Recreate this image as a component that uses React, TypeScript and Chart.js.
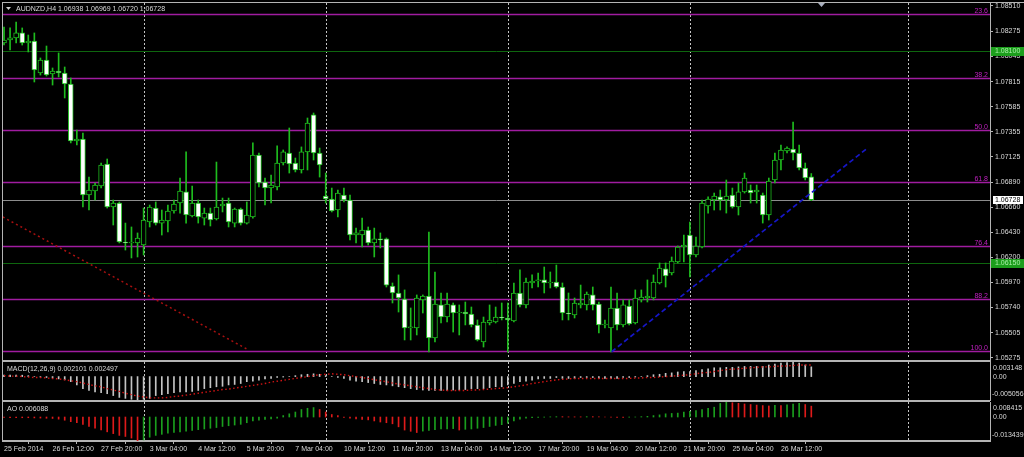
import React, { useEffect, useRef } from 'react';
import { Chart, registerables } from 'chart.js';

Chart.register(...registerables);

// ---------------- DATA ----------------
const symbolLabel = 'AUDNZD,H4';

const opens = [
  1.08170, 1.08197, 1.08216, 1.08262, 1.08170, 1.08188, 1.07894, 1.08013, 1.07885, 1.07912,
  1.07894, 1.07793, 1.07269, 1.07287, 1.06772, 1.06809, 1.06855, 1.07057, 1.06662, 1.06698,
  1.06340, 1.06331, 1.06331, 1.06312, 1.06524, 1.06652, 1.06514, 1.06533, 1.06625, 1.06698,
  1.06800, 1.06579, 1.06698, 1.06560, 1.06606, 1.06551, 1.06671, 1.06698, 1.06514, 1.06643,
  1.06514, 1.06570, 1.07140, 1.06891, 1.06836, 1.06846, 1.07066, 1.07158, 1.07066, 1.07002,
  1.07168, 1.07508, 1.07158, 1.06763, 1.06735, 1.06634, 1.06772, 1.06726, 1.06404, 1.06404,
  1.06450, 1.06331, 1.06368, 1.06368, 1.05935, 1.05871, 1.05816, 1.05549, 1.05549, 1.05807,
  1.05843, 1.05457, 1.05761, 1.05650, 1.05761, 1.05687, 1.05696, 1.05678, 1.05577, 1.05420,
  1.05595, 1.05604, 1.05650, 1.05641, 1.05613, 1.05871, 1.05761, 1.05963, 1.05981, 1.05991,
  1.05963, 1.05972, 1.05926, 1.05687, 1.05669, 1.05761, 1.05761, 1.05853, 1.05770, 1.05577,
  1.05549, 1.05733, 1.05577, 1.05751, 1.05595, 1.05807, 1.05825, 1.05825, 1.05963, 1.06092,
  1.06055, 1.06156, 1.06294, 1.06404, 1.06220, 1.06294, 1.06671, 1.06726, 1.06754, 1.06726,
  1.06772, 1.06662, 1.06800, 1.06818, 1.06800, 1.06772, 1.06588, 1.06910, 1.07094, 1.07177,
  1.07195, 1.07158, 1.07020, 1.06938,
];

const highs = [
  1.08317, 1.08308, 1.08363, 1.08308, 1.08243, 1.08262, 1.08032, 1.08142, 1.07940, 1.08078,
  1.07949, 1.07848, 1.07370, 1.07342, 1.06937, 1.06882, 1.07066, 1.07103, 1.06726, 1.06708,
  1.06514, 1.06478, 1.06423, 1.06652, 1.06680, 1.06708, 1.06634, 1.06680, 1.06726, 1.06928,
  1.07168, 1.06855, 1.06726, 1.06652, 1.06652, 1.07075, 1.06744, 1.06744, 1.06652, 1.06652,
  1.06708, 1.07251, 1.07158, 1.06928, 1.06956, 1.07223, 1.07186, 1.07388, 1.07112, 1.07214,
  1.07480, 1.07526, 1.07204, 1.06974, 1.06836, 1.06818, 1.06836, 1.06772, 1.06468, 1.06560,
  1.06478, 1.06468, 1.06423, 1.06377, 1.05963, 1.06037, 1.05899, 1.05733, 1.05853, 1.05853,
  1.06432, 1.06064, 1.05871, 1.05871, 1.05779, 1.05761, 1.05788, 1.05742, 1.05623, 1.05650,
  1.05761, 1.05742, 1.05779, 1.05779, 1.05963, 1.06083, 1.06009, 1.06037, 1.06055, 1.06110,
  1.06064, 1.06128, 1.05963, 1.05871, 1.05825, 1.05944, 1.05880, 1.05926, 1.05788, 1.05623,
  1.05926, 1.05871, 1.05807, 1.05807, 1.05899, 1.05899, 1.05991, 1.06037, 1.06147, 1.06147,
  1.06202, 1.06303, 1.06404, 1.06524, 1.06386, 1.06726, 1.06754, 1.06790, 1.06818, 1.06910,
  1.06836, 1.06882, 1.06974, 1.06864, 1.06864, 1.06790, 1.06928, 1.07158, 1.07232, 1.07214,
  1.07443, 1.07232, 1.07066, 1.06969,
];

const lows = [
  1.08151, 1.08105, 1.08170, 1.08151, 1.08087, 1.07811, 1.07875, 1.07866, 1.07783, 1.07857,
  1.07664, 1.07251, 1.07232, 1.06662, 1.06634, 1.06726, 1.06836, 1.06652, 1.06496, 1.06331,
  1.06266, 1.06193, 1.06202, 1.06220, 1.06478, 1.06496, 1.06404, 1.06432, 1.06606, 1.06606,
  1.06514, 1.06570, 1.06514, 1.06496, 1.06487, 1.06542, 1.06616, 1.06478, 1.06478, 1.06496,
  1.06505, 1.06560, 1.06846, 1.06680, 1.06698, 1.06818, 1.07048, 1.06974, 1.06984, 1.06974,
  1.07002, 1.07094, 1.06937, 1.06698, 1.06616, 1.06570, 1.06708, 1.06358, 1.06331, 1.06294,
  1.06312, 1.06202, 1.06285, 1.05926, 1.05779, 1.05696, 1.05439, 1.05439, 1.05485, 1.05687,
  1.05328, 1.05420, 1.05595, 1.05604, 1.05512, 1.05485, 1.05577, 1.05559, 1.05430, 1.05374,
  1.05577, 1.05595, 1.05623, 1.05328, 1.05604, 1.05742, 1.05733, 1.05917, 1.05926, 1.05871,
  1.05917, 1.05917, 1.05623, 1.05623, 1.05641, 1.05733, 1.05715, 1.05715, 1.05503, 1.05549,
  1.05328, 1.05531, 1.05559, 1.05577, 1.05586, 1.05788, 1.05788, 1.05807, 1.05954, 1.05926,
  1.06037, 1.06147, 1.06156, 1.06018, 1.06202, 1.06285, 1.06606, 1.06634, 1.06634, 1.06606,
  1.06652, 1.06588, 1.06790, 1.06698, 1.06698, 1.06514, 1.06542, 1.06882, 1.07002, 1.07158,
  1.07094, 1.07002, 1.06910, 1.06720,
];

const closes = [
  1.08197, 1.08216, 1.08262, 1.08170, 1.08188, 1.07921, 1.08013, 1.07875, 1.07912, 1.07894,
  1.07793, 1.07269, 1.07287, 1.06772, 1.06818, 1.06864, 1.07048, 1.06662, 1.06698, 1.06340,
  1.06331, 1.06340, 1.06377, 1.06542, 1.06662, 1.06514, 1.06542, 1.06625, 1.06689, 1.06809,
  1.06588, 1.06698, 1.06570, 1.06606, 1.06542, 1.06662, 1.06689, 1.06524, 1.06643, 1.06514,
  1.06588, 1.07140, 1.06882, 1.06836, 1.06864, 1.07066, 1.07168, 1.07057, 1.07002, 1.07168,
  1.07434, 1.07158, 1.07048, 1.06735, 1.06625, 1.06790, 1.06726, 1.06404, 1.06423, 1.06450,
  1.06331, 1.06368, 1.06358, 1.05944, 1.05871, 1.05825, 1.05549, 1.05559, 1.05825, 1.05843,
  1.05457, 1.05770, 1.05650, 1.05770, 1.05687, 1.05696, 1.05678, 1.05577, 1.05439, 1.05604,
  1.05623, 1.05650, 1.05641, 1.05623, 1.05871, 1.05761, 1.05972, 1.05981, 1.05991, 1.05963,
  1.05972, 1.05926, 1.05687, 1.05678, 1.05779, 1.05779, 1.05862, 1.05761, 1.05577, 1.05586,
  1.05733, 1.05577, 1.05761, 1.05586, 1.05825, 1.05834, 1.05843, 1.05972, 1.06101, 1.06027,
  1.06165, 1.06294, 1.06312, 1.06220, 1.06303, 1.06698, 1.06735, 1.06763, 1.06726, 1.06763,
  1.06662, 1.06800, 1.06928, 1.06790, 1.06818, 1.06588, 1.06900, 1.07094, 1.07186, 1.07204,
  1.07158, 1.07020, 1.06928, 1.06728,
];

const macdMain = [
  0.0003, 0.0003, 0.0003, 0.0003, 0.0002, 0.0000, -0.0001, -0.0002, -0.0003, -0.0005,
  -0.0007, -0.0011, -0.0018, -0.0026, -0.0030, -0.0033, -0.0035, -0.0037, -0.0041, -0.0045,
  -0.0047, -0.0049, -0.0050, -0.0049, -0.0047, -0.0041, -0.0039, -0.0037, -0.0035, -0.0033,
  -0.0033, -0.0032, -0.0030, -0.0026, -0.0024, -0.0022, -0.0021, -0.0018, -0.0017, -0.0015,
  -0.0011, -0.0010, -0.0008, -0.0005, -0.0004, -0.0002, -0.0001, 0.0000, 0.0002, 0.0004,
  0.0005, 0.0006, 0.0005, 0.0002, 0.0000, -0.0002, -0.0004, -0.0008, -0.0010, -0.0011,
  -0.0013, -0.0015, -0.0017, -0.0018, -0.0020, -0.0022, -0.0024, -0.0026, -0.0028, -0.0029,
  -0.0030, -0.0030, -0.0030, -0.0030, -0.0029, -0.0029, -0.0028, -0.0026, -0.0026, -0.0026,
  -0.0024, -0.0022, -0.0022, -0.0018, -0.0015, -0.0011, -0.0010, -0.0008, -0.0005, -0.0004,
  -0.0004, -0.0002, -0.0004, -0.0004, -0.0004, -0.0002, -0.0002, -0.0002, -0.0004, -0.0004,
  -0.0004, -0.0004, -0.0002, -0.0002, -0.0001, 0.0000, 0.0002, 0.0004, 0.0005, 0.0007,
  0.0008, 0.0010, 0.0011, 0.0011, 0.0013, 0.0015, 0.0017, 0.0019, 0.0019, 0.0020,
  0.0020, 0.0021, 0.0022, 0.0022, 0.0022, 0.0022, 0.0025, 0.0027, 0.0029, 0.0030,
  0.0031, 0.0029, 0.0025, 0.002101,
];

const macdSignal = [
  0.0002, 0.0001, 0.0001, 0.0000, -0.0001, -0.0002, -0.0002, -0.0003, -0.0004, -0.0005,
  -0.0007, -0.0009, -0.0011, -0.0014, -0.0017, -0.0020, -0.0022, -0.0026, -0.0029, -0.0032,
  -0.0036, -0.0039, -0.0042, -0.0044, -0.0046, -0.0046, -0.0046, -0.0045, -0.0043, -0.0042,
  -0.0040, -0.0038, -0.0036, -0.0034, -0.0032, -0.0030, -0.0028, -0.0027, -0.0025, -0.0023,
  -0.0021, -0.0019, -0.0017, -0.0015, -0.0012, -0.0010, -0.0008, -0.0006, -0.0004, -0.0002,
  0.0000, 0.0002, 0.0004, 0.0005, 0.0006, 0.0005, 0.0004, 0.0002, 0.0000, -0.0002,
  -0.0004, -0.0007, -0.0009, -0.0011, -0.0014, -0.0016, -0.0018, -0.0020, -0.0022, -0.0024,
  -0.0026, -0.0028, -0.0029, -0.0030, -0.0030, -0.0030, -0.0030, -0.0029, -0.0029, -0.0028,
  -0.0027, -0.0026, -0.0025, -0.0024, -0.0022, -0.0020, -0.0018, -0.0015, -0.0013, -0.0011,
  -0.0009, -0.0007, -0.0006, -0.0005, -0.0004, -0.0004, -0.0004, -0.0004, -0.0004, -0.0004,
  -0.0004, -0.0004, -0.0004, -0.0004, -0.0003, -0.0003, -0.0002, -0.0002, -0.0001, 0.0000,
  0.0001, 0.0002, 0.0003, 0.0004, 0.0006, 0.0008, 0.0009, 0.0011, 0.0013, 0.0015,
  0.0016, 0.0017, 0.0018, 0.0019, 0.0020, 0.0021, 0.0021, 0.0022, 0.0023, 0.0023,
  0.0024, 0.0025, 0.0025, 0.002497,
];

const aoValues = [
  -0.0002, -0.0003, -0.0003, -0.0004, -0.0004, -0.0005, -0.0006, -0.0007, -0.0008, -0.0012,
  -0.0018, -0.0026, -0.0032, -0.0042, -0.0053, -0.0063, -0.0073, -0.0083, -0.0093, -0.0103,
  -0.0109, -0.0118, -0.0134, -0.0128, -0.0113, -0.0103, -0.0097, -0.0091, -0.0087, -0.0083,
  -0.0079, -0.0075, -0.0071, -0.0067, -0.0063, -0.0059, -0.0053, -0.0049, -0.0045, -0.0041,
  -0.0032, -0.0022, -0.0018, -0.0014, -0.0010, -0.0006, 0.0008, 0.0018, 0.0028, 0.0042,
  0.0049, 0.0053, 0.0042, 0.0028, 0.0014, 0.0008, -0.0002, -0.0006, -0.0010, -0.0013,
  -0.0016, -0.0022, -0.0028, -0.0032, -0.0038, -0.0055, -0.0073, -0.0080, -0.0087, -0.0079,
  -0.0075, -0.0071, -0.0067, -0.0066, -0.0065, -0.0073, -0.0069, -0.0067, -0.0063, -0.0059,
  -0.0053, -0.0047, -0.0043, -0.0035, -0.0022, -0.0012, -0.0006, -0.0004, -0.0002, -0.0001,
  0.0001, 0.0002, 0.0002, 0.0001, 0.0001, 0.0001, 0.0002, 0.0002, 0.0001, 0.0000,
  -0.0001, -0.0002, -0.0002, -0.0001, 0.0000, 0.0002, 0.0004, 0.0008, 0.0012, 0.0018,
  0.0020, 0.0022, 0.0028, 0.0032, 0.0036, 0.0042, 0.0049, 0.0055, 0.0076, 0.0084,
  0.0080, 0.0077, 0.0073, 0.0070, 0.0067, 0.0064, 0.0062, 0.0066, 0.0064, 0.0068,
  0.0073, 0.0077, 0.0070, 0.006088,
];

const timeLabelIndex = [0, 8, 16, 24, 32, 40, 48, 56, 64, 72, 80, 88, 96, 104, 112, 120, 128];
const timeLabels = [
  '25 Feb 2014', '26 Feb 12:00', '27 Feb 20:00', '3 Mar 04:00', '4 Mar 12:00', '5 Mar 20:00',
  '7 Mar 04:00', '10 Mar 12:00', '11 Mar 20:00', '13 Mar 04:00', '14 Mar 12:00', '17 Mar 20:00',
  '19 Mar 04:00', '20 Mar 12:00', '21 Mar 20:00', '25 Mar 04:00', '26 Mar 12:00',
];
const weekGridIndex = [23, 53, 83, 113, 149];

const priceTicks = [
  1.08510, 1.08275, 1.08045, 1.07815, 1.07585, 1.07355, 1.07125, 1.06890,
  1.06660, 1.06430, 1.06200, 1.05970, 1.05740, 1.05505, 1.05275,
];
const priceMin = 1.05264;
const priceMax = 1.085374;

const fibLevels = [1.08436, 1.07851, 1.07370, 1.06889, 1.06303, 1.05819, 1.05340];
const fibLabels = ['23.6', '38.2', '50.0', '61.8', '76.4', '88.2', '100.0'];
const greenLevels = [1.08100, 1.06150];

const redTrendX = [-0.2, 40.3];
const redTrendY = [1.06570, 1.05347];
const blueTrendX = [100.1, 142.0];
const blueTrendY = [1.05331, 1.07192];

const macdMax = 0.003148;
const macdMin = -0.005056;
const aoMax = 0.008415;
const aoMin = -0.013439;

const xMin = -0.165;
const xMax = 162.44;

// ---------------- STYLE ----------------
const FAMILY = '"Liberation Sans", Arial, sans-serif';
const TEXT = '#dadada';
const FRAME = '#b4b4b4';
const CANDLE = '#1ebc1e';
const FIB_LINE = '#a01ca0';
const FIB_TEXT = '#c020c0';
const LEVEL_GREEN = '#0e660e';
const BOX_GREEN = '#1c9e1c';
const GRID = '#c4c4c4';

const fnt = (s = 7) => `${s}px ${FAMILY}`;

function drawWeekGrid(chart: any) {
  const { ctx, chartArea: a, scales } = chart;
  const x = scales.x;
  ctx.save();
  ctx.strokeStyle = GRID;
  ctx.lineWidth = 1;
  ctx.setLineDash([2, 2]);
  weekGridIndex.forEach((i) => {
    const px = Math.round(x.getPixelForValue(i)) + 0.5;
    ctx.beginPath();
    ctx.moveTo(px, a.top);
    ctx.lineTo(px, a.bottom);
    ctx.stroke();
  });
  ctx.restore();
}

function hline(ctx: any, x0: number, x1: number, y: number) {
  ctx.beginPath();
  ctx.moveTo(x0, y);
  ctx.lineTo(x1, y);
  ctx.stroke();
}

const N = closes.length;

const mainPlugin = {
  id: 'mainOverlay',
  beforeDatasetsDraw(chart: any) {
    const { ctx, chartArea: a, scales } = chart;
    const y = scales.y;
    drawWeekGrid(chart);
    ctx.save();
    ctx.lineWidth = 1;
    ctx.strokeStyle = LEVEL_GREEN;
    greenLevels.forEach((v) => hline(ctx, a.left, a.right, Math.round(y.getPixelForValue(v)) + 0.5));
    ctx.strokeStyle = '#8c8c8c';
    hline(ctx, a.left, a.right, Math.round(y.getPixelForValue(closes[N - 1])) + 0.5);
    ctx.strokeStyle = FIB_LINE;
    ctx.lineWidth = 1.3;
    fibLevels.forEach((v) => hline(ctx, a.left, a.right, Math.round(y.getPixelForValue(v)) + 0.5));
    ctx.restore();
  },
  afterDraw(chart: any) {
    const { ctx, chartArea: a, scales } = chart;
    const y = scales.y;
    ctx.save();
    // fib labels
    ctx.font = fnt(7);
    ctx.fillStyle = FIB_TEXT;
    ctx.textAlign = 'right';
    ctx.textBaseline = 'alphabetic';
    fibLevels.forEach((v, k) => {
      ctx.fillText(fibLabels[k], a.right - 2, Math.round(y.getPixelForValue(v)) - 1);
    });
    // frame
    ctx.fillStyle = FRAME;
    ctx.fillRect(2, 2, 1022, 1);
    ctx.fillRect(2, 2, 1, 360);
    ctx.fillRect(990, 2, 1, 360);
    ctx.fillRect(2, 360, 988, 2);
    // green level boxes on axis
    ctx.textAlign = 'left';
    ctx.textBaseline = 'middle';
    greenLevels.forEach((v) => {
      const py = Math.round(y.getPixelForValue(v));
      ctx.fillStyle = BOX_GREEN;
      ctx.fillRect(991, py - 4, 33, 9);
      ctx.fillStyle = '#a8f0a8';
      ctx.fillText(v.toFixed(5), 995, py + 0.5);
    });
    // current price box
    const cp = Math.round(y.getPixelForValue(closes[N - 1]));
    ctx.fillStyle = '#ffffff';
    ctx.fillRect(993, cp - 4, 30, 8);
    ctx.fillStyle = '#000000';
    ctx.fillText(closes[N - 1].toFixed(5), 995, cp + 0.5);
    // header
    ctx.fillStyle = '#d0d0d0';
    ctx.beginPath();
    ctx.moveTo(6, 7);
    ctx.lineTo(11, 7);
    ctx.lineTo(8.5, 10);
    ctx.closePath();
    ctx.fill();
    ctx.fillStyle = TEXT;
    ctx.font = fnt(7);
    ctx.fillText(
      `${symbolLabel} ${opens[N - 1].toFixed(5)} ${highs[N - 1].toFixed(5)} ${lows[N - 1].toFixed(5)} ${closes[N - 1].toFixed(5)}`,
      16, 9.5
    );
    // chart shift marker
    ctx.fillStyle = '#aab0c0';
    ctx.beginPath();
    ctx.moveTo(818, 3);
    ctx.lineTo(825, 3);
    ctx.lineTo(821.5, 7);
    ctx.closePath();
    ctx.fill();
    ctx.restore();
  },
};

function subPlugin(id: string, title: string, vmax: number, vmin: number, bottomBand: boolean) {
  return {
    id,
    beforeDatasetsDraw(chart: any) {
      drawWeekGrid(chart);
    },
    afterDraw(chart: any) {
      const { ctx, chartArea: a, scales } = chart;
      const y = scales.y;
      ctx.save();
      ctx.fillStyle = FRAME;
      ctx.fillRect(2, 0, 1, a.bottom + 1);
      ctx.fillRect(990, 0, 1, a.bottom + 1);
      if (bottomBand) ctx.fillRect(2, a.bottom, 988, 2);
      ctx.font = fnt(7);
      ctx.fillStyle = TEXT;
      ctx.textAlign = 'left';
      ctx.textBaseline = 'middle';
      ctx.fillText(title, 7, a.top + 7);
      ctx.fillText(vmax.toFixed(6), 993, a.top + 6);
      ctx.fillText('0.00', 993, y.getPixelForValue(0));
      ctx.fillText(vmin.toFixed(6), 992, a.bottom - 6);
      ctx.restore();
    },
  };
}

export default function App() {
  const mainRef = useRef<HTMLCanvasElement>(null);
  const macdRef = useRef<HTMLCanvasElement>(null);
  const aoRef = useRef<HTMLCanvasElement>(null);

  useEffect(() => {
    const charts: Chart[] = [];
    const idx = closes.map((_, i) => i);

    const xScale = {
      type: 'linear' as const,
      min: xMin,
      max: xMax,
      offset: false,
      display: false,
    };

    // ---- main price chart ----
    charts.push(
      new Chart(mainRef.current as HTMLCanvasElement, {
        type: 'bar',
        data: {
          datasets: [
            {
              type: 'line',
              data: blueTrendX.map((x, k) => ({ x, y: blueTrendY[k] })),
              borderColor: '#1616c8',
              borderWidth: 1.7,
              borderDash: [5, 3],
              pointRadius: 0,
              order: 0,
            } as any,
            {
              type: 'line',
              data: redTrendX.map((x, k) => ({ x, y: redTrendY[k] })),
              borderColor: '#a81010',
              borderWidth: 1.5,
              borderDash: [2, 3],
              pointRadius: 0,
              order: 0,
            } as any,
            {
              data: idx.map((i) => ({ x: i, y: [opens[i], closes[i]] })),
              backgroundColor: idx.map((i) => (closes[i] < opens[i] ? '#ffffff' : '#000000')),
              borderColor: CANDLE,
              borderWidth: 1,
              borderSkipped: false,
              barThickness: 5,
              minBarLength: 1,
              grouped: false,
              order: 1,
            } as any,
            {
              data: idx.map((i) => ({ x: i, y: [lows[i], highs[i]] })),
              backgroundColor: CANDLE,
              borderWidth: 0,
              barThickness: 1,
              grouped: false,
              order: 2,
            } as any,
          ],
        },
        options: {
          animation: false,
          responsive: false,
          maintainAspectRatio: false,
          devicePixelRatio: 1,
          events: [],
          layout: { padding: { left: 3, right: 0, top: 3, bottom: 3 } },
          plugins: { legend: { display: false }, tooltip: { enabled: false } },
          scales: {
            x: xScale,
            y: {
              type: 'linear',
              position: 'right',
              min: priceMin,
              max: priceMax,
              afterBuildTicks: (s: any) => {
                s.ticks = priceTicks.map((v) => ({ value: v }));
              },
              afterFit: (s: any) => {
                s.width = 34;
              },
              ticks: {
                color: TEXT,
                autoSkip: false,
                padding: 2,
                font: { family: FAMILY, size: 7, lineHeight: 0.1 },
                callback: (v: any) => Number(v).toFixed(5),
              },
              grid: { display: true, drawOnChartArea: false, drawTicks: true, tickLength: 3, color: FRAME },
              border: { display: false },
            },
          },
        } as any,
        plugins: [mainPlugin],
      })
    );

    // ---- MACD ----
    charts.push(
      new Chart(macdRef.current as HTMLCanvasElement, {
        type: 'bar',
        data: {
          datasets: [
            {
              type: 'line',
              data: idx.map((i) => ({ x: i, y: macdSignal[i] })),
              borderColor: '#d01414',
              borderWidth: 1.4,
              borderDash: [1.5, 2.5],
              pointRadius: 0,
              order: 0,
            } as any,
            {
              data: idx.map((i) => ({ x: i, y: macdMain[i] })),
              backgroundColor: '#c4c4c4',
              barThickness: 1,
              grouped: false,
              order: 1,
            } as any,
          ],
        },
        options: {
          animation: false,
          responsive: false,
          maintainAspectRatio: false,
          devicePixelRatio: 1,
          events: [],
          layout: { padding: { left: 3, right: 34, top: 0, bottom: 2 } },
          plugins: { legend: { display: false }, tooltip: { enabled: false } },
          scales: {
            x: xScale,
            y: { type: 'linear', display: false, min: macdMin, max: macdMax },
          },
        } as any,
        plugins: [
          subPlugin(
            'macdOverlay',
            `MACD(12,26,9) ${macdMain[N - 1].toFixed(6)} ${macdSignal[N - 1].toFixed(6)}`,
            macdMax,
            macdMin,
            true
          ),
        ],
      })
    );

    // ---- AO ----
    charts.push(
      new Chart(aoRef.current as HTMLCanvasElement, {
        type: 'bar',
        data: {
          datasets: [
            {
              data: idx.map((i) => ({ x: i, y: aoValues[i] })),
              backgroundColor: idx.map((i) => (i > 0 && aoValues[i] > aoValues[i - 1] ? '#1a9e1d' : '#de1a1a')),
              barThickness: 1,
              grouped: false,
            } as any,
          ],
        },
        options: {
          animation: false,
          responsive: false,
          maintainAspectRatio: false,
          devicePixelRatio: 1,
          events: [],
          layout: { padding: { left: 3, right: 34, top: 0, bottom: 0 } },
          plugins: { legend: { display: false }, tooltip: { enabled: false } },
          scales: {
            x: {
              type: 'linear',
              min: xMin,
              max: xMax,
              offset: false,
              display: true,
              position: 'bottom',
              afterBuildTicks: (s: any) => {
                s.ticks = timeLabelIndex.map((v) => ({ value: v }));
              },
              afterFit: (s: any) => {
                s.height = 16;
              },
              ticks: {
                color: TEXT,
                autoSkip: false,
                maxRotation: 0,
                minRotation: 0,
                align: 'start',
                padding: 1,
                font: { family: FAMILY, size: 7 },
                callback: (v: any) => {
                  const k = timeLabelIndex.indexOf(Number(v));
                  return k >= 0 ? timeLabels[k] : '';
                },
              },
              grid: { display: true, drawOnChartArea: false, drawTicks: true, tickLength: 3, color: FRAME },
              border: { display: true, color: FRAME, width: 2 },
            },
            y: { type: 'linear', display: false, min: aoMin, max: aoMax },
          },
        } as any,
        plugins: [subPlugin('aoOverlay', `AO ${aoValues[N - 1].toFixed(6)}`, aoMax, aoMin, false)],
      })
    );

    return () => charts.forEach((c) => c.destroy());
  }, []);

  const cstyle = (top: number, h: number): React.CSSProperties => ({
    position: 'absolute',
    left: 0,
    top,
    width: 1024,
    height: h,
    display: 'block',
  });

  return (
    <div
      style={{
        position: 'fixed',
        left: 0,
        top: 0,
        width: 1024,
        height: 457,
        background: '#000000',
        overflow: 'hidden',
      }}
    >
      <canvas ref={mainRef} width={1024} height={362} style={cstyle(0, 362)} />
      <canvas ref={macdRef} width={1024} height={40} style={cstyle(362, 40)} />
      <canvas ref={aoRef} width={1024} height={55} style={cstyle(402, 55)} />
    </div>
  );
}
